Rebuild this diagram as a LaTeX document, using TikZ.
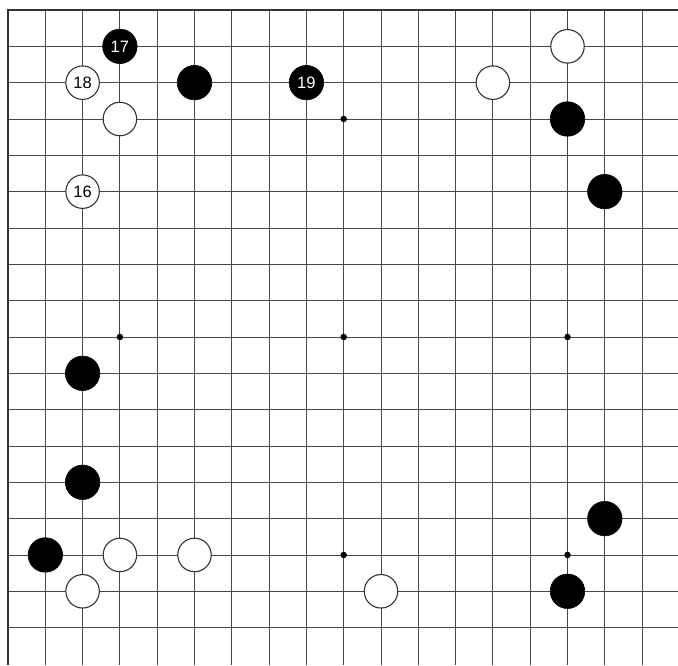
\documentclass[tikz,border=0pt]{standalone}
\usepackage{fontspec}
\setmainfont{Liberation Sans}
\begin{document}
\begin{tikzpicture}[x=1pt,y=-1pt,
  gridline/.style={draw=black!72,line width=0.85pt},
  edgeline/.style={draw=black!80,line width=1.4pt},
  bstone/.style={circle,fill=black,draw=black,line width=0.6pt,minimum size=34.5pt,inner sep=0pt,text=white,font=\fontsize{16.5}{16.5}\selectfont},
  wstone/.style={circle,fill=white,draw=black!80,line width=1.1pt,minimum size=33.5pt,inner sep=0pt,text=black,font=\fontsize{16.5}{16.5}\selectfont},
  hoshi/.style={circle,fill=black,inner sep=0pt,minimum size=6.5pt}]
\useasboundingbox (0,0) rectangle (678,665);
\fill[white] (0,0) rectangle (678,665);
% grid
\foreach \i in {2,...,18} {
  \draw[gridline] ({8+(\i-1)*37.3},10) -- ({8+(\i-1)*37.3},665);
}
\foreach \j in {2,...,18} {
  \draw[gridline] (8,{10+(\j-1)*36.33}) -- (678,{10+(\j-1)*36.33});
}
\draw[edgeline] (8,665) -- (8,10) -- (678,10);
% star points
\foreach \c/\r [count=\k] in {4/4,10/4,16/4,4/10,10/10,16/10,4/16,10/16,16/16} {
  \node[hoshi] (h\k) at ({8+(\c-1)*37.3},{10+(\r-1)*36.33}) {};
}
% stones
\newcommand{\stone}[5]{\node[#1] (#2) at ({8+(#3-1)*37.3},{10+(#4-1)*36.33}) {#5};}
\stone{bstone}{b17}{4}{2}{17}
\stone{wstone}{w18}{3}{3}{18}
\stone{bstone}{b1}{6}{3}{}
\stone{bstone}{b19}{9}{3}{19}
\stone{wstone}{w1}{4}{4}{}
\stone{wstone}{w16}{3}{6}{16}
\stone{wstone}{w2}{16}{2}{}
\stone{wstone}{w3}{14}{3}{}
\stone{bstone}{b2}{16}{4}{}
\stone{bstone}{b3}{17}{6}{}
\stone{bstone}{b4}{3}{11}{}
\stone{bstone}{b5}{3}{14}{}
\stone{bstone}{b6}{2}{16}{}
\stone{wstone}{w4}{4}{16}{}
\stone{wstone}{w5}{6}{16}{}
\stone{wstone}{w6}{3}{17}{}
\stone{wstone}{w7}{11}{17}{}
\stone{bstone}{b7}{17}{15}{}
\stone{bstone}{b8}{16}{17}{}
\end{tikzpicture}
\end{document}
